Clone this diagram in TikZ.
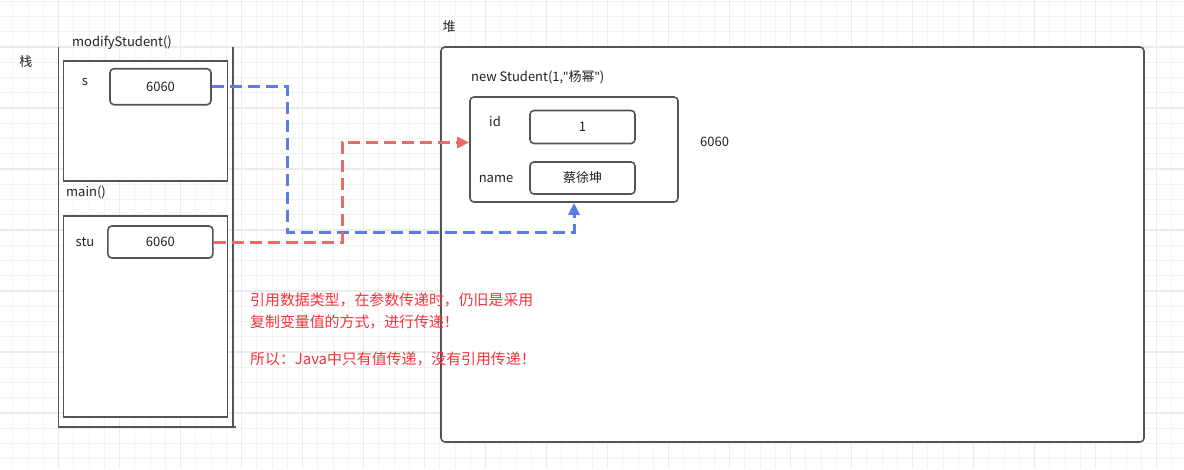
\documentclass[tikz,border=0pt]{standalone}
\usepackage{fontspec}
\setmainfont{Noto Sans CJK SC}[Ligatures=TeXOff]
\newfontfamily\qf{Noto Sans}[Ligatures=TeXOff]
\usetikzlibrary{arrows.meta}
\definecolor{gridminor}{RGB}{243,243,243}
\definecolor{gridmajor}{RGB}{235,235,235}
\definecolor{boxline}{HTML}{51555A}
\definecolor{txt}{HTML}{222222}
\definecolor{bluearr}{HTML}{5C7CE8}
\definecolor{redarr}{HTML}{EA6B66}
\definecolor{redtxt}{HTML}{F5323C}
\tikzset{
  lbl/.style={inner sep=0pt, text=txt, font=\fontsize{13}{15}\selectfont},
  frame/.style={draw=boxline, line width=1.6pt, fill=white, inner sep=0pt},
  valbox/.style={frame, rounded corners=4pt, font=\fontsize{13}{15}\selectfont, text=txt},
  conn/.style={line width=3pt, dash pattern=on 12pt off 6pt,
    -{Triangle[length=12pt,width=11pt]}},
  note/.style={inner sep=0pt, anchor=west, text=redtxt, font=\fontsize{14.9}{17}\selectfont},
}
\begin{document}
\begin{tikzpicture}[x=1pt,y=-1pt]
\useasboundingbox (0,0) rectangle (1184,469);
\fill[white] (0,0) rectangle (1184,469);
% grid
\begin{scope}
\clip (0,0) rectangle (1184,469);
\foreach \n in {-1,...,77} {
  \pgfmathsetmacro\xx{12.75+15.25*\n}
  \draw[gridminor, line width=1pt] (\xx,0) -- (\xx,469);
}
\foreach \n in {0,...,30} {
  \pgfmathsetmacro\yy{1.25+15.25*\n}
  \draw[gridminor, line width=1pt] (0,\yy) -- (1184,\yy);
}
\foreach \n in {-1,3,...,77} {
  \pgfmathsetmacro\xx{12.75+15.25*\n}
  \draw[gridmajor, line width=1.3pt] (\xx,0) -- (\xx,469);
}
\foreach \n in {3,7,...,31} {
  \pgfmathsetmacro\yy{1.25+15.25*\n}
  \draw[gridmajor, line width=1.3pt] (0,\yy) -- (1184,\yy);
}
\end{scope}

% stack
\node[lbl] (stacklbl) at (26,62) {栈};
\coordinate (stl) at (58.3,47);
\coordinate (stbl) at (58.3,427);
\coordinate (stbr) at (236,427);
\coordinate (str) at (232.7,47);
\coordinate (stbrv) at (232.7,427);
\draw[boxline, line width=1.6pt] (stl) -- (stbl) -- (stbr);
\draw[boxline, line width=1.6pt] (str) -- (stbrv);

\node[lbl, anchor=west] (modlbl) at (72,43) {modifyStudent()};
\node[frame, minimum width=164pt, minimum height=120pt] (frameS) at (145.3,121) {};
\node[lbl] (slbl) at (85,82) {s};
\node[valbox, minimum width=101pt, minimum height=36pt] (boxS) at (160.5,86.7) {6060};

\node[lbl, anchor=west] (mainlbl) at (66,192) {main()};
\node[frame, minimum width=164pt, minimum height=201pt] (frameM) at (145.3,316.5) {};
\node[lbl] (stulbl) at (85,242) {stu};
\node[valbox, minimum width=105pt, minimum height=32pt] (boxStu) at (160.4,242) {6060};

% heap
\node[lbl] (heaplbl) at (449,27) {堆};
\node[frame, rounded corners=4pt, minimum width=703pt, minimum height=395pt] (heap) at (792.5,244.5) {};
\node[lbl, anchor=west] (newlbl) at (471,77) {new Student(1,{\qf "}杨幂{\qf "})};
\node[frame, rounded corners=4pt, minimum width=208pt, minimum height=105pt] (obj) at (574,149.5) {};
\node[lbl] (idlbl) at (495,121) {id};
\node[valbox, minimum width=105pt, minimum height=33pt] (boxId) at (582.5,127) {1};
\node[lbl] (namelbl) at (496,179) {name};
\node[valbox, minimum width=105pt, minimum height=32pt] (boxName) at (582.5,178) {蔡徐坤};
\node[lbl, anchor=west] (addr) at (700,142) {6060};

% connectors
\coordinate (b1) at (287,232);
\draw[conn, bluearr] (boxS.east) -| (b1) -| (obj.south);
\coordinate (r1) at (342,142.5);
\draw[conn, redarr] (boxStu.east) -| (r1) -- (r1 -| obj.west);

% note
\node[note] (note1) at (250,300) {引用数据类型，在参数传递时，仍旧是采用};
\node[note] (note2) at (250,322) {复制变量值的方式，进行传递！};
\node[note] (note3) at (250,359) {所以：Java中只有值传递，没有引用传递！};
\end{tikzpicture}
\end{document}
